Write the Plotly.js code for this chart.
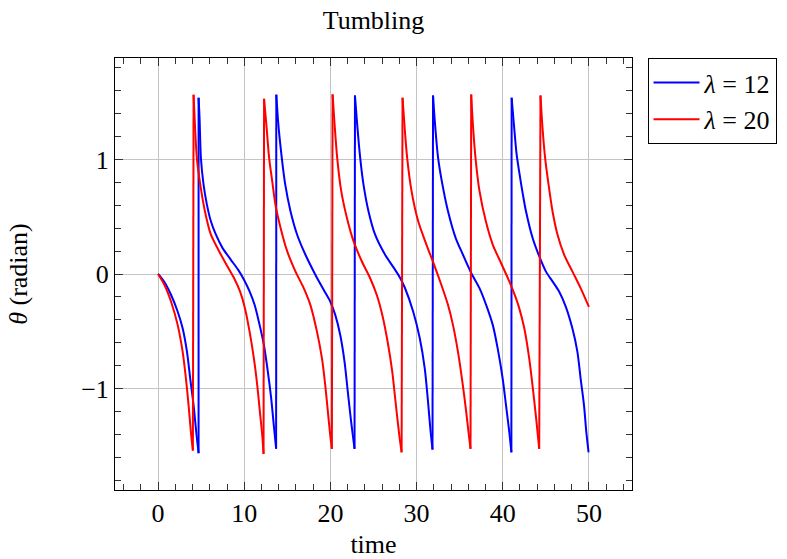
<!DOCTYPE html>
<html>
<head>
<meta charset="utf-8">
<script src="https://cdn.plot.ly/plotly-3.0.1.min.js"></script>
<style>html,body{margin:0;padding:0;background:#fff;}#chart{width:787px;height:559px;}</style>
</head>
<body>
<div id="chart"></div>
<script>
// lambda = 12 (blue)
var timeL12 = [
  0, 0.73, 1.50, 2.27, 2.85, 3.35, 3.73, 4.12, 4.43, 4.70,
  4.70, 4.81, 4.97, 5.27, 5.66, 6.12, 6.70, 7.47, 8.43, 9.28, 9.97, 10.62, 11.20, 11.78, 12.28, 12.74, 13.13, 13.43, 13.70,
  13.72, 13.95, 14.35, 14.75, 15.36, 16.13, 17.09, 18.25, 19.21, 19.98, 20.56, 21.14, 21.64, 22.02, 22.41, 22.80,
  22.85, 23.10, 23.45, 23.83, 24.41, 25.18, 26.33, 27.30, 28.06, 28.64, 29.60, 30.37, 30.95, 31.33, 31.60, 31.85,
  31.91, 32.14, 32.49, 32.99, 33.64, 34.53, 35.37, 36.34, 37.30, 38.07, 38.84, 39.41, 39.99, 40.38, 40.76, 41.00,
  41.03, 41.30, 41.60, 41.92, 42.30, 42.69, 43.46, 44.23, 45.00, 45.77, 46.54, 47.31, 48.08, 48.66, 49.04, 49.43, 49.70, 49.96
];
var thetaL12 = [
  0, -0.070, -0.181, -0.327, -0.474, -0.678, -0.912, -1.146, -1.380, -1.564,
  1.538, 1.368, 1.012, 0.784, 0.608, 0.462, 0.345, 0.228, 0.126, 0.038, -0.050, -0.152, -0.269, -0.444, -0.620, -0.854, -1.088, -1.322, -1.525,
  1.565, 1.310, 1.018, 0.784, 0.550, 0.345, 0.170, -0.006, -0.137, -0.240, -0.357, -0.532, -0.766, -1.029, -1.292, -1.526,
  1.558, 1.310, 1.018, 0.784, 0.550, 0.345, 0.170, 0.060, -0.030, -0.120, -0.327, -0.561, -0.825, -1.117, -1.351, -1.532,
  1.558, 1.310, 1.018, 0.784, 0.550, 0.316, 0.170, 0.009, -0.123, -0.269, -0.444, -0.649, -0.912, -1.146, -1.380, -1.556,
  1.538, 1.300, 1.050, 0.886, 0.710, 0.550, 0.316, 0.155, 0.023, -0.064, -0.152, -0.284, -0.474, -0.678, -0.912, -1.146, -1.380, -1.556
];
// lambda = 20 (red)
var timeL20 = [
  0, 0.73, 1.50, 2.27, 2.85, 3.23, 3.54, 3.81, 4.04,
  4.12, 4.27, 4.50, 4.89, 5.43, 6.12, 7.08, 8.04, 8.81, 9.51, 10.08, 10.62, 11.12, 11.51, 11.82, 12.09, 12.24,
  12.30, 12.59, 12.89, 13.24, 13.63, 14.21, 14.98, 15.94, 16.90, 17.67, 18.44, 19.02, 19.40, 19.71, 19.98, 20.17,
  20.25, 20.48, 20.79, 21.25, 21.91, 22.68, 23.64, 24.60, 25.37, 26.02, 26.64, 27.18, 27.56, 27.95, 28.26,
  28.37, 28.64, 28.91, 29.41, 30.18, 31.14, 32.10, 32.87, 33.64, 34.22, 34.80, 35.37, 35.76, 36.07, 36.26,
  36.34, 36.53, 36.84, 37.30, 38.03, 38.84, 39.80, 40.76, 41.53, 41.92, 42.50, 43.07, 43.54, 43.92, 44.23,
  44.38, 44.61, 44.92, 45.31, 45.77, 46.35, 47.12, 48.08, 49.04, 50.00
];
var thetaL20 = [
  0, -0.094, -0.240, -0.444, -0.678, -0.912, -1.146, -1.380, -1.541,
  1.564, 1.310, 1.012, 0.784, 0.550, 0.345, 0.199, 0.067, -0.035, -0.152, -0.298, -0.503, -0.737, -0.971, -1.205, -1.409, -1.570,
  1.529, 1.281, 1.012, 0.813, 0.600, 0.404, 0.199, 0.023, -0.123, -0.269, -0.503, -0.737, -0.971, -1.205, -1.409, -1.526,
  1.567, 1.310, 1.012, 0.725, 0.491, 0.287, 0.111, -0.035, -0.181, -0.357, -0.591, -0.854, -1.117, -1.380, -1.556,
  1.538, 1.251, 1.012, 0.725, 0.462, 0.257, 0.067, -0.094, -0.269, -0.444, -0.678, -0.971, -1.205, -1.409, -1.526,
  1.567, 1.310, 1.012, 0.725, 0.462, 0.257, 0.096, -0.064, -0.211, -0.300, -0.474, -0.737, -1.029, -1.292, -1.526,
  1.558, 1.281, 1.012, 0.784, 0.550, 0.345, 0.170, 0.023, -0.123, -0.287
];
var seriesNames = ['<i>λ</i> = 12', '<i>λ</i> = 20'];
var seriesColors = ['#0000ff', '#ff0000'];
var xTicks = [0, 10, 20, 30, 40, 50];
var yTicks = [-1, 0, 1];

var FONT = 'Liberation Serif, Times New Roman, serif';
var FS = 26;

// Build traces: smooth branches drawn as splines, wrap-around jumps drawn as straight lines.
function buildTraces(xs, ys, name, color) {
  var out = [];
  var segX = [xs[0]], segY = [ys[0]];
  var first = true;
  function flush() {
    out.push({x: segX, y: segY, type: 'scatter', mode: 'lines', name: name,
      showlegend: first, line: {color: color, width: 2, shape: 'spline', smoothing: 0.8}});
    first = false;
  }
  for (var i = 1; i < xs.length; i++) {
    if (ys[i] - ys[i - 1] > 2) {
      flush();
      out.push({x: [xs[i - 1], xs[i]], y: [ys[i - 1], ys[i]], type: 'scatter', mode: 'lines',
        name: name, showlegend: false, line: {color: color, width: 2}});
      segX = [xs[i]]; segY = [ys[i]];
    } else {
      segX.push(xs[i]); segY.push(ys[i]);
    }
  }
  flush();
  return out;
}
var traces = buildTraces(timeL12, thetaL12, seriesNames[0], seriesColors[0])
  .concat(buildTraces(timeL20, thetaL20, seriesNames[1], seriesColors[1]));

var axisCommon = {
  showline: true, linecolor: '#000', linewidth: 1, mirror: 'ticks',
  ticks: 'inside', ticklen: 8, tickcolor: '#333', tickwidth: 1,
  showgrid: true, gridcolor: '#c4c4c4', gridwidth: 1, zeroline: false,
  tickfont: {family: FONT, size: FS, color: '#000'}
};
var layout = {
  width: 787, height: 559,
  paper_bgcolor: '#fff', plot_bgcolor: '#fff',
  margin: {l: 114.5, r: 154.5, t: 58, b: 69, autoexpand: false},
  font: {family: FONT, color: '#000'},
  title: {text: 'Tumbling', font: {family: FONT, size: FS, color: '#000'},
          x: 0.5, xref: 'paper', xanchor: 'center', y: 0.964, yref: 'container', yanchor: 'middle'},
  xaxis: Object.assign({}, axisCommon, {
    range: [-5, 55], tickvals: xTicks,
    minor: {dtick: 2, tick0: 0, ticks: 'inside', ticklen: 6, tickcolor: '#333', showgrid: false},
    title: {text: 'time', font: {family: FONT, size: FS, color: '#000'}, standoff: 14}
  }),
  yaxis: Object.assign({}, axisCommon, {
    range: [-1.885, 1.885], tickvals: yTicks,
    minor: {dtick: 0.2, tick0: 0, ticks: 'inside', ticklen: 6, tickcolor: '#333', showgrid: false},
    title: {text: '<i>θ</i> (radian)', font: {family: FONT, size: FS, color: '#000'}, standoff: 46}
  }),
  showlegend: true,
  legend: {x: 1.03, xanchor: 'left', y: 1, yanchor: 'top', bordercolor: '#000', borderwidth: 1,
           bgcolor: '#fff', font: {family: FONT, size: FS, color: '#000'}, itemwidth: 46, tracegroupgap: 0}
};
Plotly.newPlot('chart', traces, layout, {staticPlot: true, displayModeBar: false});
</script>
</body>
</html>
